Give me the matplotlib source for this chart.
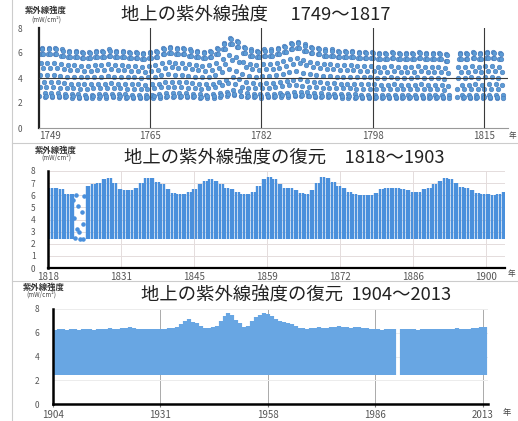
import numpy as np
import matplotlib

matplotlib.use("Agg")
import matplotlib.pyplot as plt
from matplotlib.lines import Line2D

plt.rcParams["font.family"] = ["Noto Sans CJK JP", "DejaVu Sans"]

# ---- panel 1: 1749-1817, one row of dots per month ----
p1_years = list(range(1749, 1810)) + list(range(1811, 1818))
p1_month_level = [2.6, 3.3, 4.3, 5.3, 6.0, 6.5, 6.4, 6.0, 4.9, 3.7, 2.8, 2.5]
p1_month_weight = [0.2, 0.4, 0.6, 0.8, 1.0, 1.0, 1.0, 1.0, 0.8, 0.5, 0.3, 0.2]
p1_year_shift = [
    -0.1, -0.1, -0.1, -0.2, -0.3, -0.3, -0.4, -0.4, -0.3, -0.3,   # 1749-1758
    -0.2, -0.3, -0.3, -0.4, -0.4, -0.5, -0.4, -0.3, -0.1, 0.0,    # 1759-1768
    -0.1, -0.1, -0.2, -0.3, -0.4, -0.3, -0.1, 0.3, 0.7, 0.5,      # 1769-1778
    0.0, -0.2, -0.3, -0.2, -0.2, -0.1, 0.1, 0.3, 0.4, 0.2,        # 1779-1788
    0.0, -0.1, -0.2, -0.2, -0.3, -0.3, -0.3, -0.4, -0.4, -0.4,    # 1789-1798
    -0.5, -0.5, -0.4, -0.5, -0.5, -0.5, -0.4, -0.5, -0.5, -0.5,   # 1799-1808
    -0.6,                                                          # 1809
    -0.5, -0.5, -0.4, -0.5, -0.4, -0.4, -0.5,                      # 1811-1817
]
p1_tick_pos = [1749, 1765.5, 1782, 1798.5, 1815]
p1_tick_labels = ["1749", "1765", "1782", "1798", "1815"]

# ---- panel 2: 1818-1903, daily values shown as yearly columns ----
p2_years = list(range(1818, 1904))
p2_top = [
    6.6, 6.6, 6.5, 6.1, 6.1, 6.0, 6.0, 6.8, 6.9, 7.0,   # 1818-1827
    7.3, 7.4, 7.0, 6.5, 6.4, 6.4, 6.6, 7.0, 7.4, 7.4,   # 1828-1837
    7.1, 6.9, 6.5, 6.2, 6.1, 6.1, 6.3, 6.5, 6.9, 7.2,   # 1838-1847
    7.3, 7.2, 6.9, 6.6, 6.5, 6.3, 6.1, 6.1, 6.3, 6.8,   # 1848-1857
    7.3, 7.5, 7.3, 6.9, 6.6, 6.6, 6.4, 6.2, 6.1, 6.4,   # 1858-1867
    7.0, 7.5, 7.4, 7.1, 6.8, 6.6, 6.3, 6.1, 6.0, 6.0,   # 1868-1877
    6.0, 6.2, 6.5, 6.6, 6.6, 6.6, 6.5, 6.4, 6.3, 6.3,   # 1878-1887
    6.5, 6.6, 6.9, 7.2, 7.4, 7.3, 7.0, 6.7, 6.6, 6.4,   # 1888-1897
    6.2, 6.1, 6.1, 6.0, 6.1, 6.3,                       # 1898-1903
]
p2_bottom = 2.4
p2_sparse_years = [1823, 1824]
p2_sparse_x = [1822.6, 1822.9, 1823.1, 1823.2, 1823.4, 1823.7, 1823.9,
               1824.0, 1824.3, 1824.5, 1824.6, 1824.8]
p2_sparse_y = [5.6, 4.1, 2.5, 6.0, 3.2, 5.1, 3.0, 2.4, 4.6, 2.4, 3.6, 5.9]
p2_tick_pos = [1818, 1831.7, 1845.4, 1859.1, 1872.8, 1886.5, 1900.2]
p2_tick_labels = ["1818", "1831", "1845", "1859", "1872", "1886", "1900"]

# ---- panel 3: 1904-2013 ----
p3_years = list(range(1904, 2014))
p3_top = [
    6.2, 6.3, 6.3, 6.2, 6.3, 6.3, 6.2, 6.3, 6.3, 6.3,   # 1904-1913
    6.2, 6.3, 6.3, 6.3, 6.4, 6.3, 6.3, 6.4, 6.4, 6.5,   # 1914-1923
    6.4, 6.3, 6.3, 6.3, 6.3, 6.3, 6.3, 6.3, 6.3, 6.4,   # 1924-1933
    6.4, 6.5, 6.7, 7.0, 7.2, 6.9, 6.8, 6.6, 6.4, 6.4,   # 1934-1943
    6.5, 6.6, 7.0, 7.4, 7.7, 7.5, 7.1, 6.8, 6.5, 6.6,   # 1944-1953
    7.0, 7.3, 7.5, 7.7, 7.6, 7.4, 7.2, 7.0, 6.9, 6.8,   # 1954-1963
    6.7, 6.6, 6.4, 6.4, 6.3, 6.4, 6.4, 6.5, 6.4, 6.4,   # 1964-1973
    6.5, 6.5, 6.6, 6.5, 6.5, 6.4, 6.5, 6.5, 6.4, 6.4,   # 1974-1983
    6.3, 6.3, 6.3, 6.2, 6.3, 6.3, 6.3, np.nan, 6.3, 6.3,  # 1984-1993
    6.3, 6.3, 6.2, 6.3, 6.3, 6.3, 6.3, 6.3, 6.3, 6.3,   # 1994-2003
    6.3, 6.3, 6.4, 6.3, 6.3, 6.3, 6.4, 6.4, 6.5, 6.5,   # 2004-2013
]
p3_bottom = 2.45
p3_tick_pos = [1904, 1931.25, 1958.5, 1985.75, 2013]
p3_tick_labels = ["1904", "1931", "1958", "1986", "2013"]

W, H = 518, 421
fig = plt.figure(figsize=(W / 100, H / 100), dpi=100, facecolor="white")


def px(x, y):
    return x / W, 1 - y / H


def add_panel(left, top, right, bottom):
    return fig.add_axes([left / W, 1 - bottom / H, (right - left) / W, (bottom - top) / H])


def style_ticks(ax, ypad, xpad):
    ax.tick_params(axis="y", length=0, pad=ypad, labelsize=6, labelcolor="#555555")
    ax.tick_params(axis="x", length=2, pad=xpad, labelsize=7, labelcolor="#555555", color="#777777")
    ax.spines["top"].set_visible(False)
    ax.spines["right"].set_visible(False)


# frame lines between panels
for (x0, y0), (x1, y1) in [((12, 143), (518, 143)), ((12, 281), (518, 281)), ((12, 0), (12, 421))]:
    a, b = px(x0, y0)
    c, d = px(x1, y1)
    fig.add_artist(Line2D([a, c], [b, d], color="#cccccc", lw=0.8))

# ---------------- panel 1 ----------------
ax1 = add_panel(39, 28, 508, 128)
yrs = np.array(p1_years, dtype=float)
shift = np.array(p1_year_shift)
lev = np.array(p1_month_level)
wgt = np.array(p1_month_weight)
months = np.arange(12)
xs = (yrs[:, None] + months[None, :] / 12).ravel()
ys = (lev[None, :] + wgt[None, :] * shift[:, None]).ravel()
ax1.scatter(xs, ys, s=11, color="#5b9bd5", edgecolors="#4677b8", linewidths=0.4, zorder=2)
ax1.set_xlim(1749, 1818.6)
ax1.set_ylim(0, 8)
ax1.set_yticks([0, 2, 4, 6, 8])
ax1.set_xticks(p1_tick_pos)
ax1.set_xticklabels(p1_tick_labels)
ax1.get_xticklabels()[0].set_horizontalalignment("left")
for t in p1_tick_pos[1:]:
    ax1.axvline(t, color="#3a3a3a", lw=0.8, zorder=3)
ax1.axhline(4, color="#3a3a3a", lw=0.8, zorder=3)
style_ticks(ax1, 12, 2)
ax1.tick_params(axis="x", length=0)
ax1.spines["left"].set_linewidth(1.6)
ax1.spines["left"].set_color("#222222")
ax1.spines["bottom"].set_color("#999999")
ax1.spines["bottom"].set_linewidth(0.8)

fig.text(*px(256, 15), "地上の紫外線強度　 1749～1817", ha="center", va="center",
         fontsize=13.2, color="#222222")
fig.text(*px(46, 10), "紫外線強度", ha="center", va="center", fontsize=6, weight="bold", color="#333333")
fig.text(*px(46, 20), "(mW/cm²)", ha="center", va="center", fontsize=4.5, color="#444444")
fig.text(*px(512, 136), "年", ha="center", va="center", fontsize=5.5, color="#444444")

# ---------------- panel 2 ----------------
ax2 = add_panel(48, 171, 505, 268)
ax2.set_xlim(1818, 1903.7)
ax2.set_ylim(0, 8)
ax2.set_yticks(range(0, 9))
ax2.set_xticks(p2_tick_pos)
ax2.set_xticklabels(p2_tick_labels)
ax2.grid(True, color="#e4dcdc", lw=0.7, zorder=0)
ax2.set_axisbelow(True)
col_x, col_top = [], []
for yr, top in zip(p2_years, p2_top):
    if yr in p2_sparse_years:
        continue
    col_x += [yr + 0.25, yr + 0.75]
    col_top += [top, top]
ax2.vlines(col_x, p2_bottom, col_top, color="#4a90dc", lw=1.7, zorder=2)
ax2.scatter(p2_sparse_x, p2_sparse_y, s=5, color="#4a90dc", zorder=2)
style_ticks(ax2, 9, 3)
ax2.tick_params(axis="x", length=0)
ax2.spines["left"].set_linewidth(1.8)
ax2.spines["bottom"].set_linewidth(1.6)

fig.text(*px(284, 158), "地上の紫外線強度の復元　1818～1903", ha="center", va="center",
         fontsize=13.2, color="#222222")
fig.text(*px(56, 150), "紫外線強度", ha="center", va="center", fontsize=6, weight="bold", color="#333333")
fig.text(*px(56, 158), "(mW/cm²)", ha="center", va="center", fontsize=4.5, color="#444444")
fig.text(*px(511, 274), "年", ha="center", va="center", fontsize=5.5, color="#444444")

# ---------------- panel 3 ----------------
ax3 = add_panel(53, 309, 488, 404)
ax3.set_xlim(1904, 2014.3)
ax3.set_ylim(0, 8)
ax3.set_yticks([0, 2, 4, 6, 8])
ax3.set_xticks(p3_tick_pos)
ax3.set_xticklabels(p3_tick_labels)
ax3.grid(True, axis="y", color="#ececec", lw=0.7, zorder=0)
ax3.grid(True, axis="x", color="#aaaaaa", lw=0.7, zorder=0)
ax3.set_axisbelow(True)
ax3.vlines(np.array(p3_years) + 0.5, p3_bottom, p3_top, color="#68a6e3", lw=3.0, zorder=2)
style_ticks(ax3, 10, 2)
ax3.spines["left"].set_linewidth(1.8)
ax3.spines["bottom"].set_linewidth(1.8)

fig.text(*px(296, 295), "地上の紫外線強度の復元  1904～2013", ha="center", va="center",
         fontsize=13.2, color="#222222")
fig.text(*px(44, 287), "紫外線強度", ha="center", va="center", fontsize=6, weight="bold", color="#333333")
fig.text(*px(41, 295), "(mW/cm²)", ha="center", va="center", fontsize=4.5, color="#444444")
fig.text(*px(507, 413), "年", ha="center", va="center", fontsize=6, color="#444444")

fig.savefig("out.png", dpi=100, facecolor="white")
plt.close(fig)
